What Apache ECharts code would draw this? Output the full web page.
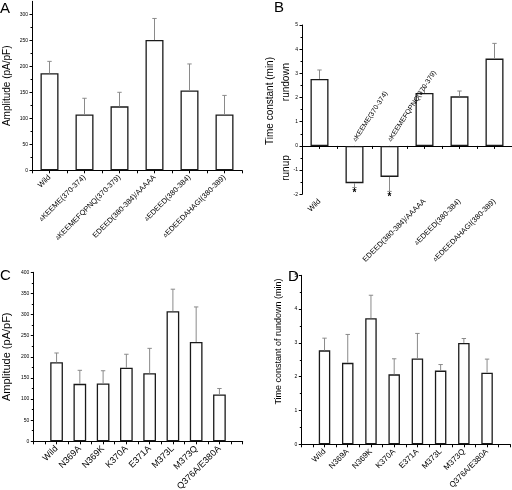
<!DOCTYPE html>
<html><head><meta charset="utf-8">
<script src="https://cdn.jsdelivr.net/npm/echarts@6/dist/echarts.min.js"></script>
<style>html,body{margin:0;padding:0;background:#fff}#c{width:512px;height:490px}</style>
</head><body><div id="c"></div>
<script>
// ---- data ----
const catsAB = ['Wild','ΔKEEME(370-374)','ΔKEEMEFQPNQ(370-379)','EDEED(380-384)/AAAAA','ΔEDEED(380-384)','ΔEDEEDAHAGI(380-389)'];
const ampA = [186.5, 107.5, 123, 250.5, 153.5, 107.5];
const ampAErr = [209.5, 138.5, 150, 292, 204.5, 144];
const tauB = [2.77, -1.54, -1.28, 2.19, 2.05, 3.61];
const tauBErr = [3.14, -1.72, -1.88, 2.43, 2.27, 4.24];
const sigB = [0, 1, 1, 0, 0, 0];
const catsCD = ['Wild','N369A','N369K','K370A','E371A','M373L','M373Q','Q376A/E380A'];
const ampC = [187, 136, 137, 174, 161, 308, 235, 111];
const ampCErr = [209, 168, 167, 206, 220, 360, 318, 125];
const tauD = [2.78, 2.41, 3.73, 2.07, 2.54, 2.18, 3.0, 2.12];
const tauDErr = [3.14, 3.25, 4.41, 2.53, 3.28, 2.36, 3.13, 2.52];
const ticksA = [0, 50, 100, 150, 200, 250, 300];

const FONT = 'Liberation Sans';
const chart = echarts.init(document.getElementById('c'), null, {renderer: 'canvas'});

function yAx(grid, min, max, interval, extra) {
  return Object.assign({
    type: 'value', gridIndex: grid, min: min, max: max, interval: interval,
    axisLine: {show: true, onZero: false, lineStyle: {color: '#000', width: 1}},
    axisTick: {show: true, inside: false, length: 2.5, lineStyle: {color: '#000', width: 1}},
    minorTick: {show: true, splitNumber: 2, length: 1.5, lineStyle: {color: '#000', width: 1}},
    splitLine: {show: false}, minorSplitLine: {show: false},
    axisLabel: {fontSize: 5, color: '#000', margin: 4, fontFamily: FONT}
  }, extra || {});
}
function labAB(list, pred) {
  return function (v) {
    const i = v - 0.5;
    if (Number.isInteger(i) && i >= 0 && i < list.length && pred(i)) return list[i].replace('Δ', '{d|Δ}');
    return '';
  };
}
function labCD(v) {
  if (Number.isInteger(v) && v >= 1 && v <= catsCD.length) return catsCD[v - 1];
  return '';
}
function xAx(grid, max, interval, formatter, fs, margin, extra) {
  return Object.assign({
    type: 'value', gridIndex: grid, position: 'bottom', min: 0, max: max, interval: interval,
    axisLine: {show: true, onZero: false, lineStyle: {color: '#000', width: 1}},
    axisTick: {show: true, inside: false, length: 3, lineStyle: {color: '#000', width: 1}},
    minorTick: {show: false}, splitLine: {show: false},
    axisLabel: {rotate: 45, fontSize: fs, color: '#000', margin: margin, fontFamily: FONT, formatter: formatter,
      rich: {d: {fontSize: 5, fontFamily: FONT, color: '#000'}}}
  }, extra || {});
}
function errRender(params, api) {
  const x = api.value(0), v = api.value(1), e = api.value(2), s = api.value(3);
  const p0 = api.coord([x, v]), p1 = api.coord([x, e]);
  const hw = 2.2;
  const ch = [
    {type: 'line', shape: {x1: p0[0], y1: p0[1], x2: p1[0], y2: p1[1]}, style: {stroke: '#8a8a8a', lineWidth: 1}},
    {type: 'line', shape: {x1: p1[0] - hw, y1: p1[1], x2: p1[0] + hw, y2: p1[1]}, style: {stroke: '#8a8a8a', lineWidth: 1}}
  ];
  if (s) ch.push({type: 'text', x: p1[0], y: p1[1] + 0.5,
    style: {text: '*', font: 'bold 10px ' + FONT, align: 'center', verticalAlign: 'top', fill: '#000'}});
  return {type: 'group', children: ch};
}
const barStyle = {color: '#fff', borderColor: '#1a1a1a', borderWidth: 1.3};
function bars(xi, yi, data, w) {
  return {type: 'bar', xAxisIndex: xi, yAxisIndex: yi, data: data, barWidth: w, itemStyle: barStyle, z: 2, silent: true};
}
function errs(xi, yi, data) {
  return {type: 'custom', xAxisIndex: xi, yAxisIndex: yi, data: data, renderItem: errRender, clip: false, z: 3, silent: true};
}
const G = {containLabel: false, outerBoundsMode: 'none'};

const option = {
  animation: false,
  backgroundColor: '#fff',
  textStyle: {fontFamily: FONT},
  grid: [
    Object.assign({left: 32, top: 1.3, width: 210, height: 169}, G),
    Object.assign({left: 302, top: 25, width: 210, height: 169.3}, G),
    Object.assign({left: 33.3, top: 272.3, width: 209.4, height: 169}, G),
    Object.assign({left: 301.3, top: 275.3, width: 209, height: 169}, G),
    // upper half of panel B (values 0..5), only carries the labels of the negative bars
    Object.assign({left: 302, top: 25, width: 210, height: 120.9}, G)
  ],
  xAxis: [
    xAx(0, 6, 0.5, labAB(catsAB, () => true), 7.5, 6),
    xAx(1, 6, 0.5, labAB(catsAB, i => tauB[i] >= 0), 7.5, 6,
      {axisLine: {show: true, onZero: true, lineStyle: {color: '#000', width: 1}}}),
    xAx(4, 6, 0.5, labAB(catsAB, i => tauB[i] < 0), 7, 5,
      {z: 5, axisLine: {show: false, onZero: false}, axisTick: {show: false},
       axisLabel: {inside: true, rotate: 57, fontSize: 7, color: '#000', margin: 5, fontFamily: FONT,
         formatter: labAB(catsAB, i => tauB[i] < 0), rich: {d: {fontSize: 5, fontFamily: FONT, color: '#000'}}}}),
    xAx(2, 9, 0.5, labCD, 9, 6),
    xAx(3, 9, 0.5, labCD, 8, 6)
  ],
  yAxis: [
    yAx(0, 0, 325, 50, {
      axisTick: {show: true, inside: false, length: 2.5, customValues: ticksA, lineStyle: {color: '#000', width: 1}},
      axisLabel: {fontSize: 5, color: '#000', margin: 4, fontFamily: FONT, customValues: ticksA},
      name: 'Amplitude (pA/pF)', nameLocation: 'middle', nameGap: 20,
      nameTextStyle: {fontSize: 10, color: '#000', fontFamily: FONT}}),
    yAx(1, -2, 5, 1),
    yAx(2, 0, 400, 50, {name: 'Amplitude (pA/pF)', nameLocation: 'middle', nameGap: 21,
      nameTextStyle: {fontSize: 11, color: '#000', fontFamily: FONT}}),
    yAx(3, 0, 5, 1),
    {type: 'value', gridIndex: 4, min: 0, max: 5, show: false}
  ],
  series: [
    bars(0, 0, ampA.map((v, i) => [i + 0.5, v]), 18),
    errs(0, 0, ampA.map((v, i) => [i + 0.5, v, ampAErr[i], 0])),
    bars(1, 1, tauB.map((v, i) => [i + 0.5, v]), 18),
    errs(1, 1, tauB.map((v, i) => [i + 0.5, v, tauBErr[i], sigB[i]])),
    bars(3, 2, ampC.map((v, i) => [i + 1, v]), 12.7),
    errs(3, 2, ampC.map((v, i) => [i + 1, v, ampCErr[i], 0])),
    bars(4, 3, tauD.map((v, i) => [i + 1, v]), 11.5),
    errs(4, 3, tauD.map((v, i) => [i + 1, v, tauDErr[i], 0]))
  ],
  graphic: [
    {type: 'text', x: 0, y: 1, style: {text: 'A', font: '15px ' + FONT, fill: '#000'}},
    {type: 'text', x: 274, y: 0, style: {text: 'B', font: '15px ' + FONT, fill: '#000'}},
    {type: 'text', x: 0, y: 268, style: {text: 'C', font: '15px ' + FONT, fill: '#000'}},
    {type: 'text', x: 288, y: 269, style: {text: 'D', font: '15px ' + FONT, fill: '#000'}},
    {type: 'text', x: 270, y: 101, rotation: Math.PI / 2,
      style: {text: 'Time constant (min)', font: '10px ' + FONT, fill: '#000', align: 'center', verticalAlign: 'middle'}},
    {type: 'text', x: 286, y: 82, rotation: Math.PI / 2,
      style: {text: 'rundown', font: '10px ' + FONT, fill: '#000', align: 'center', verticalAlign: 'middle'}},
    {type: 'text', x: 286, y: 168, rotation: Math.PI / 2,
      style: {text: 'runup', font: '10px ' + FONT, fill: '#000', align: 'center', verticalAlign: 'middle'}},
    {type: 'text', x: 279, y: 341.5, rotation: Math.PI / 2,
      style: {text: 'Time constant of rundown (min)', font: '9px ' + FONT, fill: '#000', align: 'center', verticalAlign: 'middle'}}
  ]
};
chart.setOption(option);
</script>
</body></html>
